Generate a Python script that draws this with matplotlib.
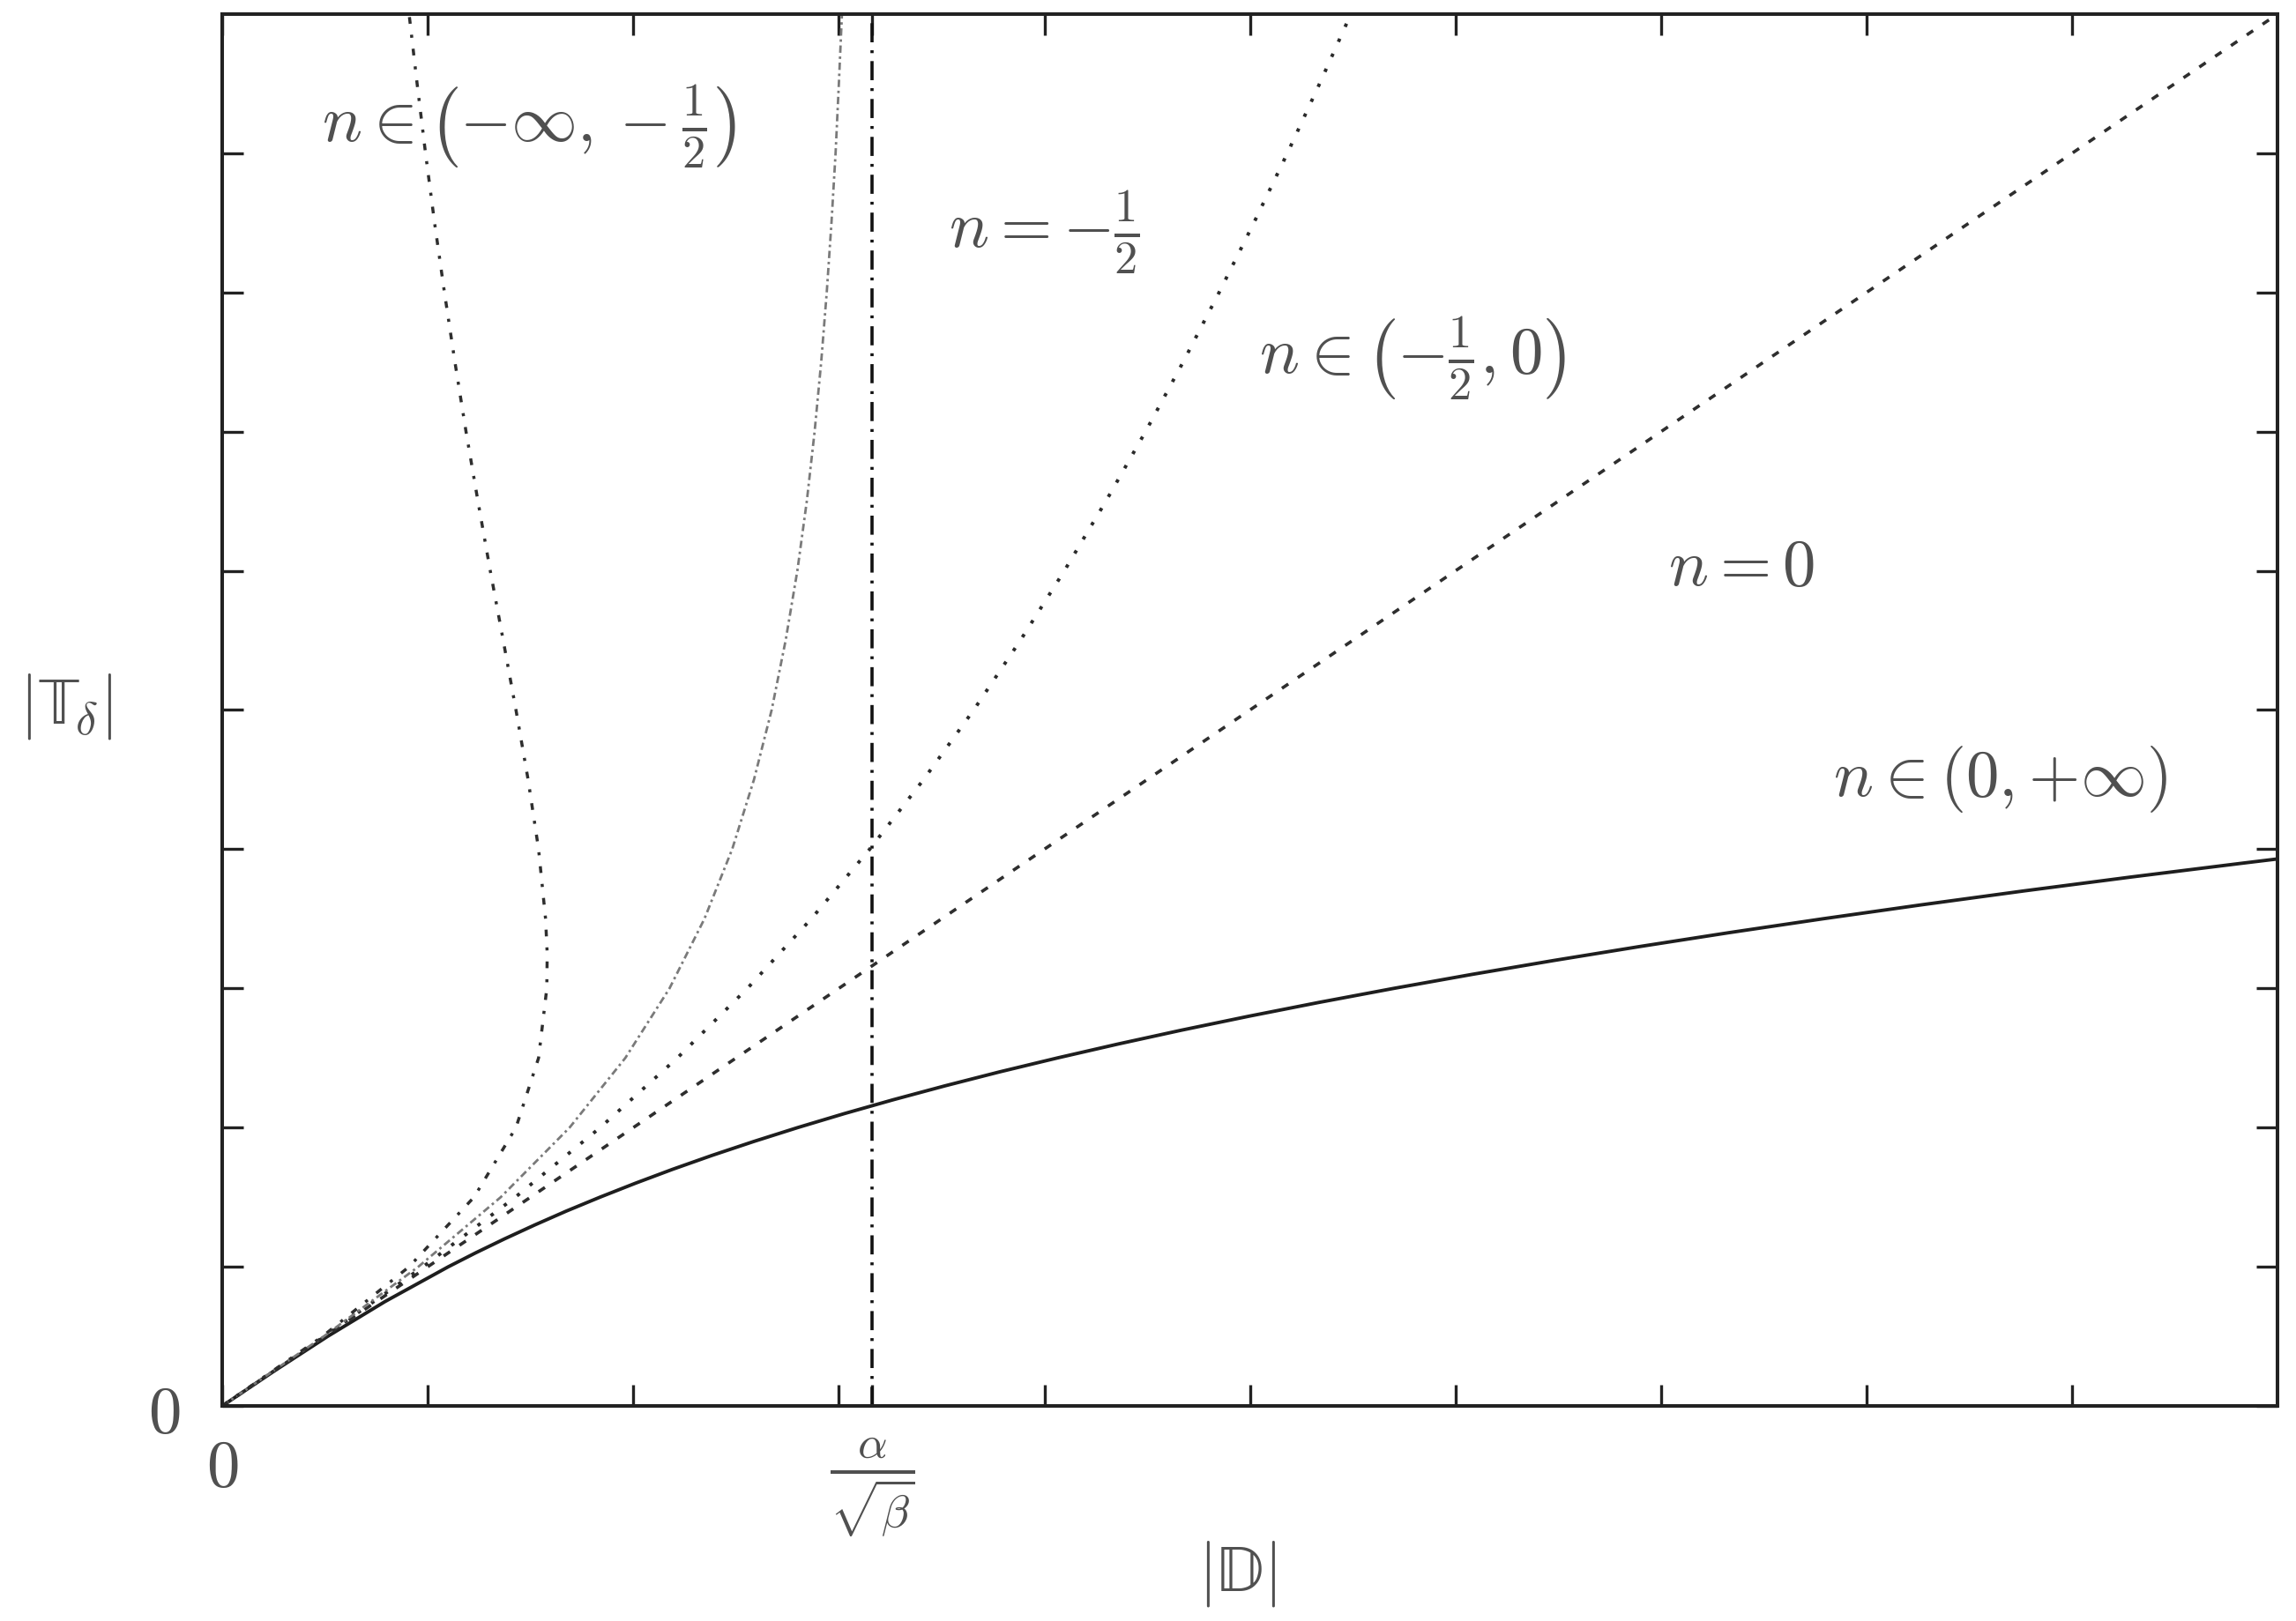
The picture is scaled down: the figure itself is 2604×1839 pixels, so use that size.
import matplotlib
matplotlib.use("Agg")
import matplotlib.pyplot as plt

plt.rcParams['mathtext.fontset'] = 'cm'
plt.rcParams['font.family'] = 'serif'
plt.rcParams['font.serif'] = ['DejaVu Serif']

# |T_delta| values (vertical) and the matching |D| values (horizontal)
t_pos = [0, 0.25, 0.5, 0.75, 1.0, 1.1, 1.2, 1.3, 1.4, 1.5, 1.6, 1.7, 1.8, 1.9, 2.0, 2.1, 2.2, 2.3,
         2.4, 2.5, 2.6, 2.7, 2.8, 2.9, 3.0, 3.1, 3.2, 3.3, 3.4, 3.5, 3.6, 3.7, 3.8, 3.9, 3.93]
d_pos = [0, 0.252, 0.513, 0.792, 1.10, 1.233, 1.373, 1.520, 1.674, 1.838, 2.010, 2.191, 2.383,
         2.586, 2.80, 3.026, 3.265, 3.517, 3.782, 4.063, 4.358, 4.668, 4.995, 5.339, 5.70, 6.079,
         6.477, 6.894, 7.330, 7.788, 8.266, 8.765, 9.287, 9.832, 10.0]

t_zero = [0, 10]
d_zero = [0, 10]

t_grid = [0, 0.5, 1.0, 1.5, 2.0, 2.5, 3.0, 3.5, 4.0, 4.5, 5.0, 5.5, 6.0, 6.5, 7.0, 7.5, 8.0, 8.5, 9.0, 9.5, 10.0]
d_quarter = [0, 0.497, 0.977, 1.426, 1.839, 2.214, 2.555, 2.866, 3.150, 3.412, 3.656, 3.883, 4.097,
             4.299, 4.492, 4.675, 4.850, 5.019, 5.182, 5.339, 5.491]
d_half = [0, 0.494, 0.954, 1.355, 1.690, 1.961, 2.176, 2.346, 2.481, 2.587, 2.673, 2.741, 2.798,
          2.844, 2.882, 2.914, 2.941, 2.964, 2.984, 3.000, 3.015]

t_neg = [0, 0.5, 1.0, 1.5, 2.0, 2.5, 3.0, 3.25, 3.5, 4.0, 4.5, 5.0, 5.5, 6.0, 6.5, 7.0, 7.5, 8.0, 8.5, 9.0, 9.5, 10.0]
d_neg = [0, 0.488, 0.909, 1.225, 1.429, 1.539, 1.579, 1.581, 1.573, 1.539, 1.488, 1.429, 1.367, 1.304,
         1.244, 1.186, 1.132, 1.081, 1.033, 0.989, 0.948, 0.909]

d_limit = 3.1623  # alpha / sqrt(beta)

labels = [r'$n \in \left(-\infty, -\frac{1}{2}\right)$', r'$n = -\frac{1}{2}$',
          r'$n \in \left(-\frac{1}{2}, 0\right)$', r'$n = 0$', r'$n \in (0, {+}\infty)$']
label_x = [1.49, 4.0, 5.79, 7.39, 8.65]
label_y = [9.2, 8.44, 7.53, 6.03, 4.51]

fig = plt.figure(figsize=(26.04, 18.40), dpi=100)
ax = fig.add_axes([0.0968, 0.1326, 0.8952, 0.8582])

ax.plot(d_pos, t_pos, color='#1e1e1e', lw=2.8, solid_capstyle='butt')
ax.plot(d_zero, t_zero, color='#2e2e2e', lw=2.6, linestyle=(0, (2.4, 3.6)))
ax.plot(d_quarter, t_grid, color='#2a2a2a', lw=2.8, linestyle=(0, (1, 3.8)))
ax.plot(d_half, t_grid, color='#7a7a7a', lw=2.0, linestyle=(0, (3, 1.5, 1, 1.5)))
ax.plot(d_neg, t_neg, color='#2e2e2e', lw=2.5, linestyle=(0, (2.2, 3.6, 1, 3.6)))
ax.axvline(d_limit, color='#111111', lw=2.6, linestyle=(0, (6, 2.5, 0.9, 2.5)))

for s, x, y in zip(labels, label_x, label_y):
    ax.text(x, y, s, fontsize=54, color='#505050', ha='center', va='center')

ax.set_xlim(0, 10)
ax.set_ylim(0, 10)

xt = [0, 1, 2, 3, 4, 5, 6, 7, 8, 9, d_limit]
xl = ['$0$', '', '', '', '', '', '', '', '', '', r'$\frac{\alpha}{\sqrt{\beta}}$']
ax.set_xticks(xt)
ax.set_xticklabels(xl)
ax.set_yticks([0, 1, 2, 3, 4, 5, 6, 7, 8, 9])
ax.set_yticklabels(['$0$', '', '', '', '', '', '', '', '', ''])

ax.tick_params(axis='both', direction='in', length=17, width=2.4, color='#222222',
               top=True, right=True, labelsize=54, labelcolor='#505050')
ax.tick_params(axis='x', pad=24)
ax.tick_params(axis='y', pad=34)

for sp in ax.spines.values():
    sp.set_linewidth(2.9)
    sp.set_color('#222222')

ax.set_xlabel('$|\\mathrm{\U0001D53B}|$', fontsize=54, color='#505050', va='center')
ax.xaxis.set_label_coords(0.494, -0.12)
ax.set_ylabel('$|\\mathrm{\U0001D54B}_\\delta|$', fontsize=54, color='#505050', rotation=0,
              ha='center', va='center')
ax.yaxis.set_label_coords(-0.076, 0.503)

fig.savefig('out.png', dpi=100)
